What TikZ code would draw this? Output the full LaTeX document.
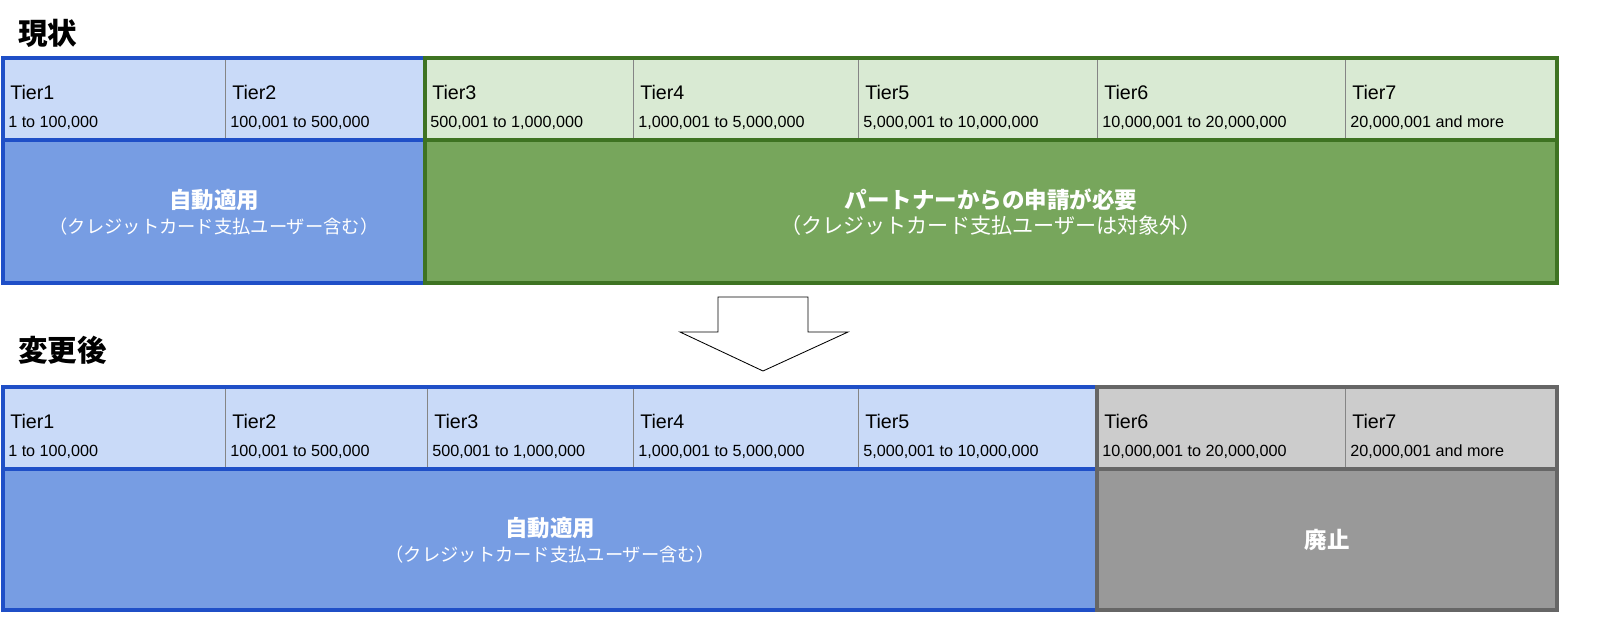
\documentclass[tikz,border=0pt]{standalone}
\usepackage{fontspec}
\setmainfont{Liberation Sans}
\newfontfamily\cjk{Noto Sans CJK JP}
\definecolor{lblue}{HTML}{C9DAF8}
\definecolor{mblue}{HTML}{779DE3}
\definecolor{dblue}{HTML}{1F4FC7}
\definecolor{lgreen}{HTML}{D9EAD3}
\definecolor{mgreen}{HTML}{77A65C}
\definecolor{dgreen}{HTML}{3E7322}
\definecolor{lgrey}{HTML}{CCCCCC}
\definecolor{mgrey}{HTML}{999999}
\definecolor{dgrey}{HTML}{666666}
\tikzstyle{cell}=[draw=dgrey!80,line width=0.6pt]
\tikzstyle{tiertxt}=[anchor=west,inner sep=0pt,font=\fontsize{14}{16}\selectfont]
\tikzstyle{rangetxt}=[anchor=west,inner sep=0pt,font=\fontsize{11.5}{13}\selectfont]
\tikzstyle{title}=[anchor=west,inner sep=0pt,font=\cjk\bfseries\fontsize{21}{24}\selectfont]
\tikzstyle{main}=[align=center,text=white,font=\cjk\fontsize{13}{18}\selectfont]
\newcommand{\tiercell}[6]{% x1,x2,y1,fill,tier,range
  \fill[#4] (#1,#3) rectangle (#2,#3+82);
  \draw[cell] (#1,#3) rectangle (#2,#3+82);
  \node[tiertxt] at (#1+7,#3+34) {#5};
  \node[rangetxt] at (#1+5,#3+65) {#6};
}
\begin{document}
\begin{tikzpicture}[x=0.025cm,y=-0.025cm]
  \useasboundingbox (0,0) rectangle (1600,637);
  % current
  \node[title] (now) at (18,33) {現状};
  \tiercell{3}{225}{58}{lblue}{Tier1}{1 to 100,000}
  \tiercell{225}{425}{58}{lblue}{Tier2}{100,001 to 500,000}
  \tiercell{425}{633}{58}{lgreen}{Tier3}{500,001 to 1,000,000}
  \tiercell{633}{858}{58}{lgreen}{Tier4}{1,000,001 to 5,000,000}
  \tiercell{858}{1097}{58}{lgreen}{Tier5}{5,000,001 to 10,000,000}
  \tiercell{1097}{1345}{58}{lgreen}{Tier6}{10,000,001 to 20,000,000}
  \tiercell{1345}{1557}{58}{lgreen}{Tier7}{20,000,001 and more}
  \fill[mblue] (3,140) rectangle (425,283);
  \fill[mgreen] (425,140) rectangle (1557,283);
  \draw[dblue,line width=2.2pt] (3,140) -- (425,140);
  \draw[dgreen,line width=2.2pt] (425,140) -- (1557,140);
  \draw[dblue,line width=2.2pt] (3,58) rectangle (425,283);
  \draw[dgreen,line width=2.2pt] (425,58) rectangle (1557,283);
  \node[main] (autoA) at (214,212) {{\bfseries\fontsize{16}{20}\selectfont 自動適用}\\（クレジットカード支払ユーザー含む）};
  \node[main] (apply) at (991,212) {{\bfseries\fontsize{16}{20}\selectfont パートナーからの申請が必要}\\{\fontsize{15}{20}\selectfont（クレジットカード支払ユーザーは対象外）}};
  % arrow
  \draw[black,fill=white,line width=0.6pt] (718,297) -- (808,297) -- (808,332) -- (848,332)
    -- (763,371) -- (680,332) -- (718,332) -- cycle;
  % after
  \node[title] (after) at (18,350) {変更後};
  \tiercell{3}{225}{387}{lblue}{Tier1}{1 to 100,000}
  \tiercell{225}{427}{387}{lblue}{Tier2}{100,001 to 500,000}
  \tiercell{427}{633}{387}{lblue}{Tier3}{500,001 to 1,000,000}
  \tiercell{633}{858}{387}{lblue}{Tier4}{1,000,001 to 5,000,000}
  \tiercell{858}{1097}{387}{lblue}{Tier5}{5,000,001 to 10,000,000}
  \tiercell{1097}{1345}{387}{lgrey}{Tier6}{10,000,001 to 20,000,000}
  \tiercell{1345}{1557}{387}{lgrey}{Tier7}{20,000,001 and more}
  \fill[mblue] (3,469) rectangle (1097,610);
  \fill[mgrey] (1097,469) rectangle (1557,610);
  \draw[dblue,line width=2.2pt] (3,469) -- (1097,469);
  \draw[dgrey,line width=2.2pt] (1097,469) -- (1557,469);
  \draw[dblue,line width=2.2pt] (3,387) rectangle (1097,610);
  \draw[dgrey,line width=2.2pt] (1097,387) rectangle (1557,610);
  \node[main] (autoB) at (550,540) {{\bfseries\fontsize{16}{20}\selectfont 自動適用}\\（クレジットカード支払ユーザー含む）};
  \node[main,font=\cjk\bfseries\fontsize{16}{20}\selectfont] (abol) at (1327,540) {廃止};
\end{tikzpicture}
\end{document}
